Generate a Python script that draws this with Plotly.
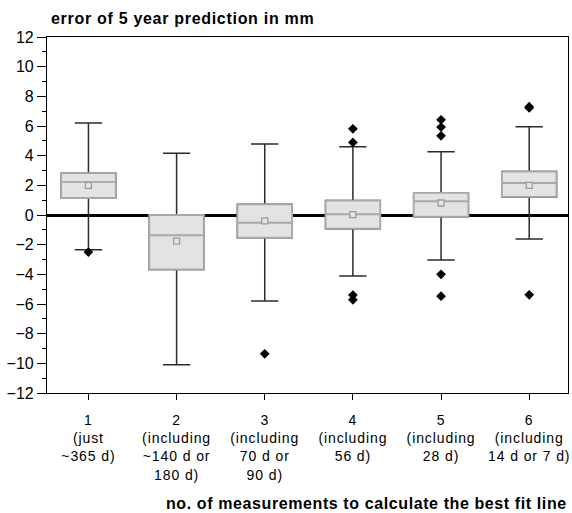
import plotly.graph_objects as go

# box statistics (mm)
categories = [1, 2, 3, 4, 5, 6]
tick_labels = [
    "1<br>(just<br>~365 d)",
    "2<br>(including<br>~140 d or<br>180 d)",
    "3<br>(including<br>70 d or<br>90 d)",
    "4<br>(including<br>56 d)",
    "5<br>(including<br>28 d)",
    "6<br>(including<br>14 d or 7 d)",
]
q1 = [1.15, -3.67, -1.53, -0.92, -0.11, 1.22]
medians = [2.23, -1.37, -0.52, 0.05, 0.93, 2.16]
q3 = [2.82, 0.0, 0.72, 0.97, 1.49, 2.93]
lower_whisker = [-2.34, -10.1, -5.79, -4.12, -3.04, -1.62]
upper_whisker = [6.2, 4.17, 4.78, 4.6, 4.26, 5.95]
means = [2.0, -1.76, -0.4, 0.02, 0.81, 2.0]

outlier_x = [1, 3, 4, 4, 4, 4, 5, 5, 5, 5, 5, 6, 6, 6]
outlier_y = [-2.5, -9.36, 4.89, 5.81, -5.4, -5.72,
             6.42, 5.93, 5.34, -4.0, -5.47, 7.3, 7.22, -5.38]

FONT = "Liberation Sans, Arial, sans-serif"


def spaced(text, px):
    """wrap a label so the letters are spread a little, like the original"""
    return '<span style="letter-spacing:%spx">%s</span>' % (px, text)


fig = go.Figure()

# whiskers (black) - the grey box is drawn on top of it
fig.add_trace(go.Box(
    x=categories, q1=q1, median=medians, q3=q3,
    lowerfence=lower_whisker, upperfence=upper_whisker,
    width=0.62, whiskerwidth=0.5,
    line=dict(color="#2b2b2b", width=1.5),
    fillcolor="white", boxpoints=False, hoverinfo="skip",
))

# grey box only
fig.add_trace(go.Box(
    x=categories, q1=q1, median=medians, q3=q3,
    lowerfence=q1, upperfence=q3,
    width=0.62, whiskerwidth=0,
    line=dict(color="#a8a8a8", width=1.9),
    fillcolor="#e3e3e3", boxpoints=False, hoverinfo="skip",
))

# means
fig.add_trace(go.Scatter(
    x=categories, y=means, mode="markers",
    marker=dict(symbol="square", size=6, color="#e6e6e6",
                line=dict(color="#9a9a9a", width=1.3)),
    hoverinfo="skip",
))

# outliers
fig.add_trace(go.Scatter(
    x=outlier_x, y=outlier_y, mode="markers",
    marker=dict(symbol="diamond", size=7.5, color="black"),
    hoverinfo="skip",
))

fig.update_layout(
    width=572, height=513,
    margin=dict(l=47, r=4, t=37, b=120),
    showlegend=False,
    plot_bgcolor="white", paper_bgcolor="white",
    font=dict(family=FONT, color="black"),
    boxmode="overlay",
    hovermode=False,
)

fig.update_xaxes(
    range=[0.53, 6.44],
    tickvals=categories, ticktext=[spaced(t, 0.9) for t in tick_labels],
    ticks="outside", ticklen=6, tickcolor="black", tickwidth=1.2,
    ticklabelstandoff=8,
    showline=True, linecolor="black", linewidth=1.2, mirror=True,
    showgrid=False, zeroline=False, automargin=False,
    tickfont=dict(size=14),
)
fig.update_yaxes(
    range=[-12, 12], dtick=2,
    ticks="outside", ticklen=9, tickcolor="black", tickwidth=1.2,
    minor=dict(dtick=1, ticks="outside", ticklen=4, tickcolor="black"),
    showline=True, linecolor="black", linewidth=1.2, mirror=True,
    showgrid=False, automargin=False,
    zeroline=True, zerolinecolor="black", zerolinewidth=2.5,
    tickfont=dict(size=16),
)

fig.add_annotation(
    text="<b>" + spaced("error of 5 year prediction in mm", 0.7) + "</b>",
    xref="paper", yref="paper", x=0, y=1, xanchor="left", yanchor="middle",
    xshift=2, yshift=19, showarrow=False, font=dict(size=16),
)
fig.add_annotation(
    text="<b>" + spaced("no. of measurements to calculate the best fit line", 0.6) + "</b>",
    xref="paper", yref="paper", x=1, y=0, xanchor="right", yanchor="middle",
    xshift=1, yshift=-110, showarrow=False, font=dict(size=16),
)

# drop the browser's default 8px body margin so the figure fills the window
fig.write_html("out.html", config={"displayModeBar": False},
               post_script="document.body.style.margin='0';")
